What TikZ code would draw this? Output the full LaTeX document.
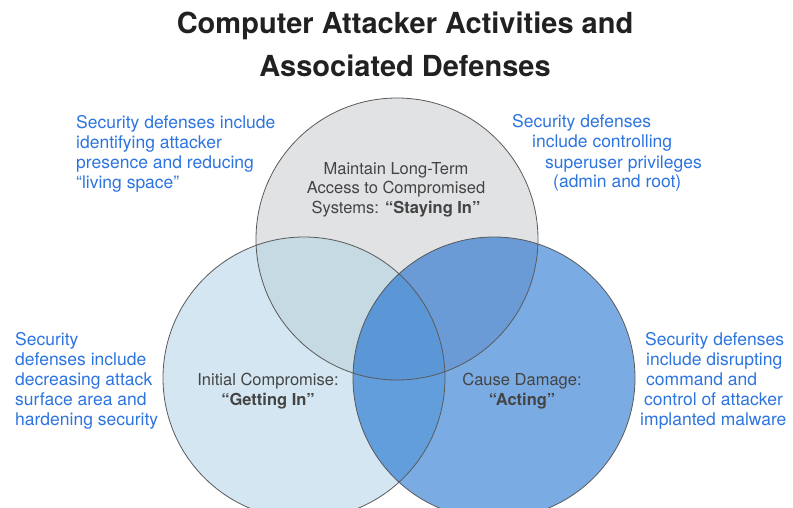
\documentclass[tikz,border=0pt]{standalone}
\usepackage{fontspec}
\setmainfont{TeX Gyre Heros}
\definecolor{staygray}{RGB}{225,226,228}
\definecolor{getblue}{RGB}{212,230,241}
\definecolor{actblue}{RGB}{123,171,227}
\definecolor{staygetmix}{RGB}{198,218,228}
\definecolor{stayactmix}{RGB}{107,155,214}
\definecolor{getactmix}{RGB}{98,157,220}
\definecolor{allmix}{RGB}{91,150,214}
\definecolor{defenseblue}{RGB}{44,116,224}
\definecolor{phasegray}{RGB}{68,68,68}
\definecolor{rimgray}{RGB}{90,90,90}

\begin{document}
\begin{tikzpicture}[
        x=1pt, y=-1pt,
        rim/.style={draw=rimgray, line width=0.8pt},
        defense/.style={text=defenseblue, align=left, inner sep=0pt,
            font=\fontsize{17.5}{20}\selectfont},
        phase/.style={text=phasegray, align=center, inner sep=0pt,
            font=\fontsize{16.5}{19.5}\selectfont},
        headline/.style={text=black!87, align=center, inner sep=0pt,
            font=\bfseries\fontsize{29}{43}\selectfont}
    ]
        \useasboundingbox (0,0) rectangle (793,508);
        \clip (0,0) rectangle (793,508);
        \def\vennrad{141pt}
        \coordinate (stay) at (397,239);
        \coordinate (get) at (304,378);
        \coordinate (act) at (494,378);

        % the three circles and their overlaps
        \fill[staygray] (stay) circle (\vennrad);
        \fill[getblue] (get) circle (\vennrad);
        \fill[actblue] (act) circle (\vennrad);
        \begin{scope}
            \clip (stay) circle (\vennrad);
            \fill[staygetmix] (get) circle (\vennrad);
            \fill[stayactmix] (act) circle (\vennrad);
        \end{scope}
        \begin{scope}
            \clip (get) circle (\vennrad);
            \fill[getactmix] (act) circle (\vennrad);
            \clip (stay) circle (\vennrad);
            \fill[allmix] (act) circle (\vennrad);
        \end{scope}
        \draw[rim] (stay) circle (\vennrad);
        \draw[rim] (get) circle (\vennrad);
        \draw[rim] (act) circle (\vennrad);

        % base anchor sits on the last line
        \node[headline, anchor=base] (head) at (405,77) {Computer Attacker Activities and\\Associated Defenses};

        \node[phase, anchor=base] (stayText) at (396,213) {Maintain Long-Term\\Access to Compromised\\Systems: \textbf{“Staying In”}};
        \node[phase, anchor=base] (getText) at (268,405) {Initial Compromise:\\\textbf{“Getting In”}};
        \node[phase, anchor=base] (actText) at (522,405) {Cause Damage:\\\textbf{“Acting”}};

        \node[defense, anchor=base west] (stayDef) at (76,189) {Security defenses include\\identifying attacker\\presence and reducing\\“living space”};
        \node[defense, anchor=base west] (rootDef) at (512,188) {Security defenses\\\hspace*{20pt}include controlling\\\hspace*{33pt}superuser privileges\\\hspace*{41pt}(admin and root)};
        \node[defense, anchor=base west] (getDef) at (15,425) {Security\\defenses include\\decreasing attack\\surface area and\\hardening security};
        \node[defense, anchor=base west] (actDef) at (640,425) {\hspace*{5pt}Security defenses\\\hspace*{6pt}include disrupting\\\hspace*{6pt}command and\\\hspace*{4pt}control of attacker\\implanted malware};
    \end{tikzpicture}
\end{document}
